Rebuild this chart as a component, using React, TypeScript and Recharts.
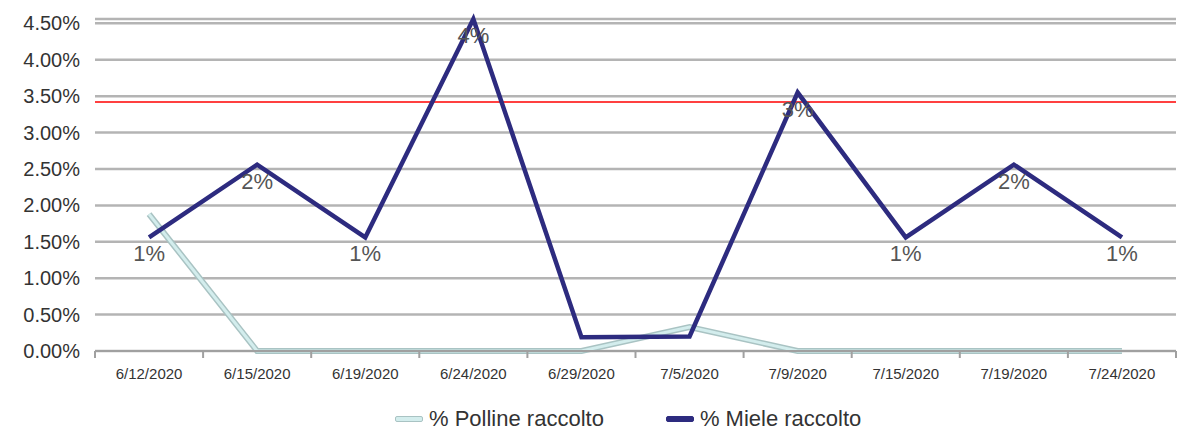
import { CartesianGrid, LabelList, Legend, Line, LineChart, ReferenceLine, XAxis, YAxis } from "recharts";

const dates = ["6/12/2020", "6/15/2020", "6/19/2020", "6/24/2020", "6/29/2020", "7/5/2020", "7/9/2020", "7/15/2020", "7/19/2020", "7/24/2020"];
const polline = [1.88, 0, 0, 0, 0, 0.33, 0, 0, 0, 0];
const miele = [1.56, 2.56, 1.56, 4.56, 0.19, 0.2, 3.55, 1.56, 2.56, 1.56];
const mieleLabels = ["1%", "2%", "1%", "4%", "", "", "3%", "1%", "2%", "1%"];
const soglia = 3.42;
const yTicks = [0, 0.5, 1, 1.5, 2, 2.5, 3, 3.5, 4, 4.5];
const xTicks = [-0.5, 0, 0.5, 1, 1.5, 2, 2.5, 3, 3.5, 4, 4.5, 5, 5.5, 6, 6.5, 7, 7.5, 8, 8.5, 9, 9.5];

const data = dates.map((d, i) => ({
  i,
  date: d,
  polline: polline[i],
  miele: miele[i],
  label: mieleLabels[i],
}));

const FONT = "'Liberation Sans', Arial, sans-serif";
const POLLEN_EDGE = "#a9c3c3";
const POLLEN_FILL = "#d3eded";
const HONEY = "#2d2b7f";

function XTick(props: any) {
  const { x, y, payload } = props;
  const v = payload.value;
  if (!Number.isInteger(v)) {
    return <line x1={x} x2={x} y1={y - 8} y2={y - 1} stroke="#a0a0a0" strokeWidth={2} />;
  }
  return (
    <text x={x} y={y + 20} textAnchor="middle" fontSize={15} fill="#333" fontFamily={FONT}>
      {dates[v]}
    </text>
  );
}

function HoneyLabel(props: any) {
  const { x, y, value } = props;
  if (!value) return null;
  return (
    <text x={x} y={y + 24} textAnchor="middle" fontSize={22} fill="#555" fontFamily={FONT}>
      {value}
    </text>
  );
}

function LegendBox() {
  const item = (color: string, edge: string, text: string, gap: number) => (
    <div style={{ display: "flex", alignItems: "center", marginRight: gap }}>
      <div style={{ width: 26, height: 4, background: color, border: `1px solid ${edge}`, borderRadius: 2, marginRight: 6 }} />
      <span style={{ fontSize: 22, color: "#333", fontFamily: FONT }}>{text}</span>
    </div>
  );
  return (
    <div style={{ display: "flex", paddingLeft: 395, paddingTop: 10, height: 26, alignItems: "center" }}>
      {item(POLLEN_FILL, POLLEN_EDGE, "% Polline raccolto", 62)}
      {item(HONEY, HONEY, "% Miele raccolto", 0)}
    </div>
  );
}

export default function App() {
  return (
    <div style={{ position: "absolute", left: 0, top: 0, background: "#fff" }}>
      <LineChart width={1179} height={432} data={data} margin={{ top: 19, right: 3, left: 0, bottom: 0 }}>
        <CartesianGrid vertical={false} stroke="#b4b4b4" strokeWidth={2.5} />
        <XAxis
          dataKey="i"
          type="number"
          domain={[-0.5, 9.5]}
          ticks={xTicks}
          interval={0}
          height={45}
          axisLine={{ stroke: "#a0a0a0", strokeWidth: 2 }}
          tickLine={false}
          tick={<XTick />}
        />
        <YAxis
          domain={[0, 4.5]}
          ticks={yTicks}
          width={95}
          axisLine={false}
          tickLine={false}
          tickSize={0}
          tickMargin={15}
          tick={{ fontSize: 20, fill: "#333", fontFamily: FONT }}
          tickFormatter={(v: number) => v.toFixed(2) + "%"}
        />
        <ReferenceLine y={soglia} stroke="#ff0000" strokeWidth={1.5} />
        <Line dataKey="polline" stroke={POLLEN_EDGE} strokeWidth={6} dot={false} isAnimationActive={false} legendType="none" />
        <Line dataKey="polline" stroke={POLLEN_FILL} strokeWidth={3} dot={false} isAnimationActive={false} legendType="none" />
        <Line dataKey="miele" stroke={HONEY} strokeWidth={4.5} dot={false} isAnimationActive={false} legendType="none">
          <LabelList dataKey="label" content={<HoneyLabel />} />
        </Line>
        <Legend verticalAlign="bottom" content={<LegendBox />} wrapperStyle={{ left: 0, width: 1179, height: 36 }} />
      </LineChart>
    </div>
  );
}
